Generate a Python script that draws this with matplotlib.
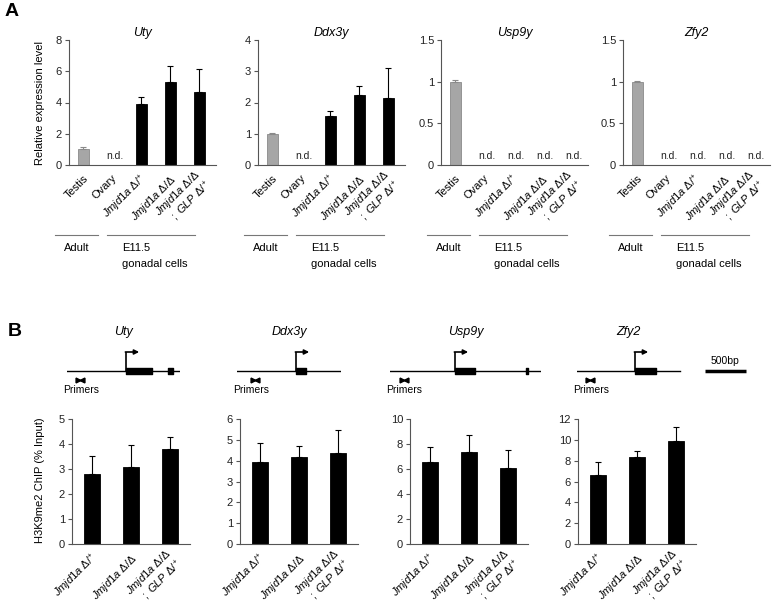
import numpy as np
import matplotlib
matplotlib.use('Agg')
import matplotlib.pyplot as plt
from matplotlib.transforms import blended_transform_factory
from matplotlib.ticker import FormatStrFormatter

plt.rcParams['font.family'] = ['Liberation Sans', 'DejaVu Sans']
plt.rcParams['mathtext.fontset'] = 'custom'
plt.rcParams['mathtext.rm'] = 'Liberation Sans'
plt.rcParams['mathtext.it'] = 'Liberation Sans:italic'
plt.rcParams['mathtext.default'] = 'regular'
plt.rcParams['font.size'] = 8

nd = np.nan
genes = ['Uty', 'Ddx3y', 'Usp9y', 'Zfy2']

# --- A: expression (n.d. = nan) ---
samples_a = ['Testis', 'Ovary',
             r'$\mathit{Jmjd1a}\ \Delta/^{+}$',
             r'$\mathit{Jmjd1a}\ \Delta/\Delta$',
             r'$\mathit{Jmjd1a}\ \Delta/\Delta$' + '\n' + r'$;\ \mathit{GLP}\ \Delta/^{+}$']
uty_expr = [1.02, nd, 3.88, 5.29, 4.65]
uty_expr_err = [0.13, nd, 0.47, 1.04, 1.49]
ddx3y_expr = [0.98, nd, 1.58, 2.24, 2.15]
ddx3y_expr_err = [0.05, nd, 0.16, 0.29, 0.94]
usp9y_expr = [1.0, nd, nd, nd, nd]
usp9y_expr_err = [0.02, nd, nd, nd, nd]
zfy2_expr = [1.0, nd, nd, nd, nd]
zfy2_expr_err = [0.01, nd, nd, nd, nd]
a_ymax = [8, 4, 1.5, 1.5]
a_ticks = [[0, 2, 4, 6, 8], [0, 1, 2, 3, 4], [0, 0.5, 1, 1.5], [0, 0.5, 1, 1.5]]

# --- B: ChIP ---
samples_b = samples_a[2:]
uty_chip = [2.8, 3.08, 3.8]
uty_chip_err = [0.72, 0.89, 0.5]
ddx3y_chip = [3.92, 4.19, 4.35]
ddx3y_chip_err = [0.91, 0.5, 1.11]
usp9y_chip = [6.53, 7.33, 6.1]
usp9y_chip_err = [1.27, 1.37, 1.45]
zfy2_chip = [6.62, 8.35, 9.89]
zfy2_chip_err = [1.22, 0.58, 1.31]
b_ymax = [5, 6, 10, 12]
b_step = [1, 1, 2, 2]

# gene diagrams (bp)
gene_len = [1380, 1270, 1840, 1256]
gene_exons = [[(720, 1037), (1228, 1289)], [(720, 842)],
              [(793, 1037), (1655, 1680)], [(708, 964)]]
gene_tss = [720, 720, 793, 708]
primer_pos = [160, 220, 170, 160]
scale_bp = 500

W, H = 774, 609
BP_PER_PX = 500 / 41
fig = plt.figure(figsize=(W / 100, H / 100), dpi=100)


def px_box(left, top, width, height):
    return [left / W, 1 - (top + height) / H, width / W, height / H]


def style(ax):
    for s in ['top', 'right']:
        ax.spines[s].set_visible(False)
    for s in ['left', 'bottom']:
        ax.spines[s].set_color('#555555')
        ax.spines[s].set_linewidth(0.8)
    ax.tick_params(axis='y', length=3, width=0.8, color='#555555', pad=2,
                   labelsize=8, labelcolor='#222222')
    ax.tick_params(axis='x', length=0, pad=8)
    ax.yaxis.set_major_formatter(FormatStrFormatter('%g'))


def bars(ax, means, errs, colors, ecolors, width):
    x = np.arange(len(means))
    ax.bar(x, np.nan_to_num(means), width=width, color=colors,
           edgecolor=ecolors, linewidth=0.6)
    for xi, m, e, ec in zip(x, means, errs, ecolors):
        if not np.isnan(m):
            ax.errorbar(xi, m, yerr=[[0], [e]], fmt='none', ecolor=ec,
                        elinewidth=0.8, capsize=2.5, capthick=0.8)
    return x


# ---------- panel A ----------
a_means = [uty_expr, ddx3y_expr, usp9y_expr, zfy2_expr]
a_errs = [uty_expr_err, ddx3y_expr_err, usp9y_expr_err, zfy2_expr_err]
a_left = [69, 258, 441, 623]
a_colors = ['#a6a6a6'] + ['black'] * 4
a_edges = ['#8a8a8a'] + ['black'] * 4
for i, g in enumerate(genes):
    ax = fig.add_axes(px_box(a_left[i], 40, 147, 125))
    x = bars(ax, a_means[i], a_errs[i], a_colors, a_edges, 0.35)
    ax.set_xlim(-0.5, 4.57)
    ax.set_ylim(0, a_ymax[i])
    ax.set_yticks(a_ticks[i])
    style(ax)
    ax.set_xticks(x + 0.08, samples_a, rotation=45, ha='right', va='center_baseline',
                  rotation_mode='anchor', fontsize=8)
    ax.set_title(g, style='italic', fontsize=9, pad=3)
    for xi, m in zip(x, a_means[i]):
        if np.isnan(m):
            ax.annotate('n.d.', (xi + 0.1, 0), xytext=(0, 3), textcoords='offset points',
                        ha='center', va='bottom', fontsize=7.5, color='#222222')
    tr = blended_transform_factory(ax.transData, ax.transAxes)
    ax.plot([-0.98, 0.5], [-0.56, -0.56], transform=tr, clip_on=False,
            color='#777777', lw=0.8)
    ax.plot([0.81, 3.84], [-0.56, -0.56], transform=tr, clip_on=False,
            color='#777777', lw=0.8)
    ax.text(-0.22, -0.665, 'Adult', transform=tr, ha='center', va='center', fontsize=8)
    ax.text(1.33, -0.665, 'E11.5', transform=tr, ha='left', va='center', fontsize=8)
    ax.text(1.33, -0.795, 'gonadal cells', transform=tr, ha='left', va='center', fontsize=8)

fig.text(40 / W, 1 - 103 / H, 'Relative expression level', rotation=90,
         ha='center', va='center', fontsize=8)

# ---------- panel B: gene diagrams ----------
d_left = [67, 237, 390, 577]
for i, g in enumerate(genes):
    L = gene_len[i]
    xmax = L + 850 if i == 3 else L
    ax = fig.add_axes(px_box(d_left[i], 351, xmax / BP_PER_PX, 40))
    ax.set_xlim(0, xmax)
    ax.set_ylim(-2, 2)
    ax.axis('off')
    ax.plot([0, L], [0, 0], color='black', lw=1.0)
    ax.broken_barh([(s, e - s) for s, e in gene_exons[i]], (-0.32, 0.64), color='black')
    t = gene_tss[i]
    ax.plot([t, t], [0, 1.9], color='black', lw=1.2, solid_capstyle='butt')
    ax.annotate('', xy=(t + 160, 1.9), xytext=(t - 8, 1.9),
                arrowprops=dict(arrowstyle='-|>', lw=1.2, color='black',
                                mutation_scale=7, shrinkA=0, shrinkB=0))
    p = primer_pos[i]
    ax.plot([p - 40, p + 40], [-0.9, -0.9], color='black', lw=0.8)
    ax.plot([p - 20], [-0.9], marker='>', ms=3.5, color='black', clip_on=False)
    ax.plot([p + 20], [-0.9], marker='<', ms=3.5, color='black', clip_on=False)
    ax.text(-50, -1.9, 'Primers', ha='left', va='center', fontsize=7.5, clip_on=False)
    ax.text(L / 2, 3.9, g, ha='center', va='center', style='italic', fontsize=9,
            clip_on=False)
    if i == 3:
        s0 = 1560
        ax.plot([s0, s0 + scale_bp], [0, 0], color='black', lw=2.5, solid_capstyle='butt')
        ax.text(s0 + scale_bp / 2, 0.95, '%dbp' % scale_bp, ha='center', va='center',
                fontsize=7.5)

# ---------- panel B: ChIP ----------
b_means = [uty_chip, ddx3y_chip, usp9y_chip, zfy2_chip]
b_errs = [uty_chip_err, ddx3y_chip_err, usp9y_chip_err, zfy2_chip_err]
b_left = [72, 240, 410, 578]
for i, g in enumerate(genes):
    ax = fig.add_axes(px_box(b_left[i], 419, 118, 125))
    x = bars(ax, b_means[i], b_errs[i], ['black'] * 3, ['black'] * 3, 0.41)
    ax.set_xlim(-0.52, 2.5)
    ax.set_ylim(0, b_ymax[i])
    ax.set_yticks(np.arange(0, b_ymax[i] + 0.1, b_step[i]))
    style(ax)
    ax.set_xticks(x + 0.06, samples_b, rotation=45, ha='right', va='center_baseline',
                  rotation_mode='anchor', fontsize=8)

fig.text(40 / W, 1 - 480 / H, 'H3K9me2 ChIP (% Input)', rotation=90,
         ha='center', va='center', fontsize=8)

fig.text(5 / W, 1 - 12 / H, 'A', fontsize=14, fontweight='bold', va='center')
fig.text(8 / W, 1 - 331 / H, 'B', fontsize=14, fontweight='bold', va='center')

fig.savefig('out.png', dpi=100)
